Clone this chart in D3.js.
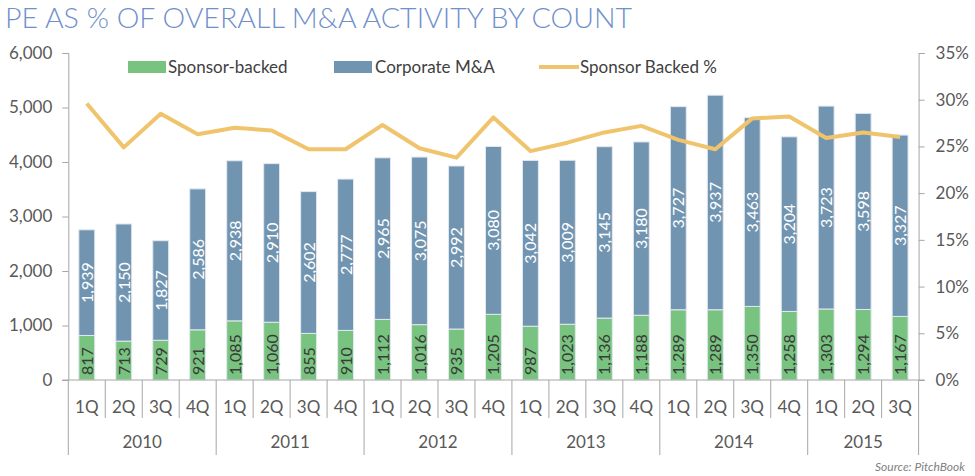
<!DOCTYPE html>
<html><head><meta charset="utf-8">
<script src="https://cdn.jsdelivr.net/npm/d3@7"></script>
<style>
html,body{margin:0;padding:0;background:#fff;}
svg{display:block;}
</style></head>
<body>
<svg id="chart" width="975" height="476"></svg>
<script>
const quarters = ["1Q","2Q","3Q","4Q","1Q","2Q","3Q","4Q","1Q","2Q","3Q","4Q","1Q","2Q","3Q","4Q","1Q","2Q","3Q","4Q","1Q","2Q","3Q"];
const years = ["2010","2011","2012","2013","2014","2015"];
const quartersPerYear = [4,4,4,4,4,3];
const sponsorBacked = [817,713,729,921,1085,1060,855,910,1112,1016,935,1205,987,1023,1136,1188,1289,1289,1350,1258,1303,1294,1167];
const corporateMA = [1939,2150,1827,2586,2938,2910,2602,2777,2965,3075,2992,3080,3042,3009,3145,3180,3727,3937,3463,3204,3723,3598,3327];
const sponsorPct = [29.6,24.9,28.5,26.3,27.0,26.7,24.7,24.7,27.3,24.8,23.8,28.1,24.5,25.4,26.5,27.2,25.7,24.7,28.0,28.2,25.9,26.5,26.0];
const leftTicks = [0,1000,2000,3000,4000,5000,6000];
const rightTicks = [0,0.05,0.10,0.15,0.20,0.25,0.30,0.35];
const seriesNames = ["Sponsor-backed","Corporate M&A","Sponsor Backed %"];

const C = {green:"#78c37f", blue:"#7195b1", line:"#f0c46c", axis:"#a6a6a6", text:"#595959", title:"#7090cc"};
const FONT = "Lato, 'Open Sans', sans-serif";

const svg = d3.select("#chart");
const L = 68.3, R = 918.6, B = 380, T = 53;
const idx = d3.range(quarters.length);

const xStep = d3.scaleBand().domain(idx).range([L, R]).padding(0);
const x = d3.scaleBand().domain(idx).range([L, R]).paddingInner(0.57).paddingOuter(0.285);
const y = d3.scaleLinear().domain([0, 6000]).range([B, T]);
const y2 = d3.scaleLinear().domain([0, 0.35]).range([B, T]);

// Title
svg.append("text").attr("x", 5).attr("y", 28)
  .attr("font-family", "Lato, sans-serif").attr("font-weight", 300)
  .attr("font-size", 27).attr("fill", C.title)
  .attr("textLength", 627).attr("lengthAdjust", "spacingAndGlyphs")
  .text("PE AS % OF OVERALL M&A ACTIVITY BY COUNT");

// Axes
const gL = svg.append("g").attr("transform", `translate(${L},0)`)
  .call(d3.axisLeft(y).tickValues(leftTicks).tickSize(6).tickPadding(10).tickFormat(d3.format(",")));
const gR = svg.append("g").attr("transform", `translate(${R},0)`)
  .call(d3.axisRight(y2).tickValues(rightTicks).tickSize(6).tickPadding(11).tickFormat(d3.format(".0%")));
[gL, gR].forEach(g => {
  g.select(".domain").attr("stroke", C.axis);
  g.selectAll(".tick line").attr("stroke", C.axis);
  g.selectAll(".tick text").attr("font-family", FONT).attr("font-size", 17).attr("fill", C.text);
});

// Bars
const bars = svg.append("g");
bars.selectAll("rect.s").data(idx).join("rect")
  .attr("x", i => x(i)).attr("width", x.bandwidth())
  .attr("y", i => y(sponsorBacked[i])).attr("height", i => B - y(sponsorBacked[i]))
  .attr("fill", C.green).attr("stroke", "#e3e8f0").attr("stroke-width", 1);
bars.selectAll("rect.c").data(idx).join("rect")
  .attr("x", i => x(i)).attr("width", x.bandwidth())
  .attr("y", i => y(sponsorBacked[i] + corporateMA[i]))
  .attr("height", i => y(sponsorBacked[i]) - y(sponsorBacked[i] + corporateMA[i]))
  .attr("fill", C.blue).attr("stroke", "#e3e8f0").attr("stroke-width", 1);

// Baseline
svg.append("line").attr("x1", L - 6).attr("x2", R + 6).attr("y1", B).attr("y2", B).attr("stroke", C.axis);

// Value labels
const fmt = d3.format(",");
svg.append("g").selectAll("text").data(idx).join("text")
  .attr("transform", i => `translate(${x(i) + x.bandwidth()/2 + 6},${B - 5}) rotate(-90)`)
  .attr("text-anchor", "start")
  .attr("font-family", FONT).attr("font-size", 16).attr("fill", "#3a3a3a")
  .text(i => fmt(sponsorBacked[i]));
svg.append("g").selectAll("text").data(idx).join("text")
  .attr("transform", i => `translate(${x(i) + x.bandwidth()/2 + 6},${(y(sponsorBacked[i]) + y(sponsorBacked[i] + corporateMA[i]))/2}) rotate(-90)`)
  .attr("text-anchor", "middle")
  .attr("font-family", FONT).attr("font-size", 16).attr("fill", "#ffffff")
  .text(i => fmt(corporateMA[i]));

// Line
const line = d3.line().x(i => x(i) + x.bandwidth()/2).y(i => y2(sponsorPct[i] / 100));
svg.append("path").datum(idx).attr("d", line)
  .attr("fill", "none").attr("stroke", C.line).attr("stroke-width", 4).attr("stroke-linejoin", "round");

// Category axis: quarter separators and labels
const cat = svg.append("g");
let yearStart = [];
{ let s = 0; quartersPerYear.forEach(n => { yearStart.push(s); s += n; }); }
idx.forEach(i => {
  const isYear = yearStart.includes(i);
  if (!isYear) {
    cat.append("line").attr("x1", xStep(i)).attr("x2", xStep(i)).attr("y1", B).attr("y2", 418).attr("stroke", C.axis);
  }
});
yearStart.concat([quarters.length]).forEach(i => {
  const xx = i < quarters.length ? xStep(i) : R;
  cat.append("line").attr("x1", xx).attr("x2", xx).attr("y1", B).attr("y2", 455).attr("stroke", C.axis);
});
cat.selectAll("text.q").data(idx).join("text")
  .attr("x", i => xStep(i) + xStep.bandwidth()/2).attr("y", 413)
  .attr("text-anchor", "middle").attr("font-family", FONT).attr("font-size", 17).attr("fill", C.text)
  .text(i => quarters[i]);
cat.selectAll("text.y").data(years).join("text")
  .attr("x", (d, k) => {
    const a = xStep(yearStart[k]);
    const b = k + 1 < years.length ? xStep(yearStart[k + 1]) : R;
    return (a + b) / 2;
  })
  .attr("y", 448).attr("text-anchor", "middle").attr("font-family", FONT).attr("font-size", 17).attr("fill", C.text)
  .text(d => d);

// Legend
const lg = svg.append("g").attr("font-family", FONT).attr("font-size", 17).attr("fill", "#404040");
lg.append("rect").attr("x", 128).attr("y", 61).attr("width", 38).attr("height", 12).attr("fill", C.green);
lg.append("text").attr("x", 168).attr("y", 73).text(seriesNames[0]);
lg.append("rect").attr("x", 334).attr("y", 61).attr("width", 38).attr("height", 12).attr("fill", C.blue);
lg.append("text").attr("x", 375).attr("y", 73).text(seriesNames[1]);
lg.append("line").attr("x1", 539).attr("x2", 579).attr("y1", 67).attr("y2", 67).attr("stroke", C.line).attr("stroke-width", 4);
lg.append("text").attr("x", 580).attr("y", 73).text(seriesNames[2]);

// Source
svg.append("text").attr("x", 965).attr("y", 471).attr("text-anchor", "end")
  .attr("font-family", FONT).attr("font-style", "italic").attr("font-size", 12).attr("fill", "#7f7f7f")
  .text("Source: PitchBook");
</script>
</body></html>
